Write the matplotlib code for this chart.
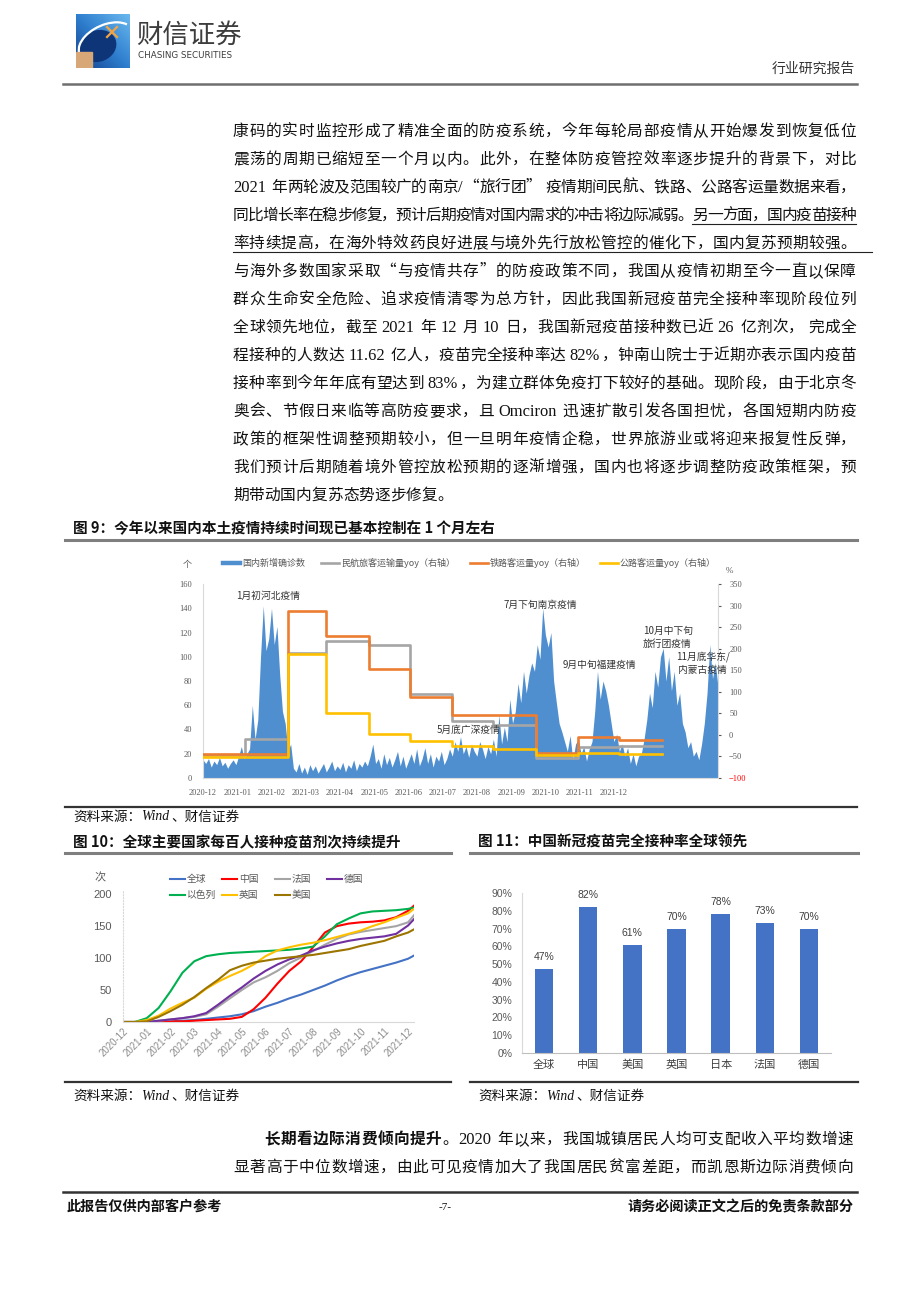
import numpy as np
import matplotlib
matplotlib.use("Agg")
import matplotlib.pyplot as plt
from matplotlib.font_manager import FontProperties
from matplotlib.lines import Line2D
from matplotlib.patches import Rectangle, Ellipse, Arc

CJK = "Noto Sans CJK SC"
LAT = "Liberation Serif"
NARROW = ["Liberation Sans Narrow", "Liberation Sans", "DejaVu Sans"]
plt.rcParams["font.family"] = [CJK, "DejaVu Sans"]

# ---------------- 图9 data ----------------
# 国内新增确诊数, every 2nd day from 2020-12-01
case_vals = [
    15, 12, 16, 9, 14, 11, 17, 10, 13, 8,
    12, 15, 11, 18, 26, 16, 20, 24, 60, 32,
    48, 100, 142, 105, 115, 140, 110, 125, 85, 55,
    45, 22, 28, 8, 5, 12, 4, 9, 3, 11,
    6, 10, 4, 8, 12, 5, 9, 14, 6, 10,
    7, 13, 5, 11, 8, 15, 6, 12, 9, 14,
    10, 18, 28, 12, 16, 8, 20, 11, 17, 9,
    15, 22, 10, 18, 8, 14, 20, 12, 24, 10,
    16, 25, 12, 20, 9, 18, 14, 22, 11, 16,
    24, 18, 30, 22, 34, 20, 26, 17, 28, 22,
    18, 30, 24, 16, 26, 20, 32, 18, 52, 28,
    42, 30, 65, 45, 55, 78, 62, 88, 70, 85,
    95, 88, 110, 98, 140, 118, 108, 120, 80, 62,
    45, 38, 30, 22, 35, 15, 28, 32, 20, 26,
    14, 24, 30, 55, 88, 65, 80, 72, 60, 45,
    30, 36, 22, 28, 18, 25, 12, 20, 10, 18,
    20, 32, 48, 70, 58, 88, 75, 100, 107, 80,
    100, 72, 88, 60, 70, 45, 38, 25, 30, 18,
    22, 15, 28, 45, 70, 110, 82, 95, 75,
]
case_days = np.arange(0, 2 * len(case_vals), 2)
# monthly yoy (%), 2020-12 .. 2021-10, held for the month
month_edges = [0, 31, 62, 90, 121, 151, 182, 212, 243, 274, 304, 335]
air_yoy = [-46, -9, 190, 218, 208, 96, 33, 23, -54, -27, -25]
rail_yoy = [-44, -44, 288, 229, 152, 88, 45, 47, -41, -5, -12]
road_yoy = [-52, -52, 188, 50, 2, -14, -26, -32, -47, -42, -45]
tick9_days = list(range(0, 301, 25))
tick9_labels = ["2020-12", "2021-01", "2021-02", "2021-03", "2021-04", "2021-05", "2021-06",
                "2021-07", "2021-08", "2021-09", "2021-10", "2021-11", "2021-12"]

# ---------------- 图10 data ----------------
m10 = [0, 0.5, 1, 1.5, 2, 2.5, 3, 3.5, 4, 4.5, 5, 5.5, 6, 6.5, 7, 7.5, 8, 8.5, 9, 9.5,
       10, 10.5, 11, 11.5, 12, 12.25]
world = [0, 0, 0, 0.5, 1, 2, 3, 5, 7, 9, 12, 17, 24, 30, 37, 43, 50, 57, 65, 72, 78, 83, 88, 93, 99, 104]
china = [0, 0, 0, 0, 1, 1, 2, 3, 4, 5, 8, 20, 38, 60, 80, 95, 117, 140, 150, 154, 156, 157, 159, 164, 174, 182]
france = [0, 0, 0, 2, 4, 6, 8, 12, 24, 37, 50, 62, 70, 80, 92, 101, 111, 121, 130, 137, 141, 144, 147, 150, 156, 167]
germany = [0, 0, 0, 2, 4, 6, 9, 14, 27, 41, 54, 68, 80, 90, 98, 104, 112, 118, 123, 127, 130, 132, 134, 138, 151, 161]
israel = [0, 0, 6, 22, 48, 77, 95, 103, 106, 108, 109, 110, 111, 112, 113, 115, 118, 134, 153, 162, 170, 173, 174, 175, 177, 179]
uk = [0, 0, 3, 10, 21, 30, 38, 52, 63, 72, 80, 90, 103, 112, 117, 121, 124, 128, 133, 138, 143, 150, 156, 163, 170, 177]
us = [0, 0, 1, 8, 17, 27, 39, 53, 66, 81, 88, 93, 96, 99, 101, 103, 105, 108, 111, 114, 119, 123, 127, 134, 140, 145]
tick10_labels = tick9_labels

# ---------------- 图11 data ----------------
countries = ["全球", "中国", "美国", "英国", "日本", "法国", "德国"]
full_rate = [47, 82, 61, 70, 78, 73, 70]

W, H = 920, 1302
fig = plt.figure(figsize=(W / 100, H / 100), dpi=100)
renderer = fig.canvas.get_renderer()


def fx(x):
    return x / W


def fy(y):
    return 1 - y / H


def add_ax(x0, y0, x1, y1):
    return fig.add_axes([x0 / W, 1 - y1 / H, (x1 - x0) / W, (y1 - y0) / H])


def hline(x0, x1, y, color="#7f7f7f", lw=1.6):
    fig.add_artist(Line2D([fx(x0), fx(x1)], [fy(y), fy(y)], color=color, lw=lw,
                          transform=fig.transFigure))


def txt(x, y, s, **kw):
    kw.setdefault("va", "center")
    return fig.text(fx(x), fy(y), s, **kw)


def fprop(fam, size, bold=False, italic=False):
    return FontProperties(family=fam, size=size, weight="bold" if bold else "normal",
                          style="italic" if italic else "normal")


def lat_width(s, fp):
    return renderer.get_text_width_height_descent(s, fp, ismath=False)[0]


SP = 4.0


def body_line(y, segs, x0=233, x1=856, size=11.3, justify=True, ul_end=None, color="#111111"):
    # lay out one line of body text, spreading the glyphs to fill x0..x1
    em = size * 100 / 72
    items = []
    for s, st in segs:
        bold = "b" in st
        i = 0
        while i < len(s):
            c = s[i]
            if c == " ":
                items.append(("sp", c, st, 0))
                i += 1
            elif ord(c) < 128:
                j = i
                while j < len(s) and ord(s[j]) < 128 and s[j] != " ":
                    j += 1
                w = lat_width(s[i:j], fprop(LAT, size * 1.05, bold))
                items.append(("lat", s[i:j], st, w + 1.5))
                i = j
            else:
                items.append(("cjk", c, st, em))
                i += 1
    glyphs = [it for it in items if it[0] != "sp"]
    n_sp = len(items) - len(glyphs)
    used = sum(it[3] for it in glyphs) + n_sp * SP
    gap = (x1 - x0 - used) / (len(glyphs) - 1) if justify else 0
    yb = y + 0.36 * em
    x = x0
    ul = []
    for kind, t, st, w in items:
        if kind == "sp":
            x += SP
            continue
        bold = "b" in st
        fam = LAT if kind == "lat" else CJK
        fs = size * 1.05 if kind == "lat" else size
        fig.text(fx(x), fy(yb), t, fontproperties=fprop(fam, fs, bold),
                 ha="left", va="baseline", color=color)
        if "u" in st:
            ul.append((x, x + w))
        x += w + gap
    if ul:
        hline(ul[0][0], ul_end if ul_end else ul[-1][1], yb + 4, color="#222222", lw=0.8)


def seq_text(x, y, parts, size, color="#111111"):
    em = size * 100 / 72
    for s, fam, italic, bold in parts:
        fp = fprop(fam, size, bold, italic)
        fig.text(fx(x), fy(y), s, fontproperties=fp, ha="left", va="center", color=color)
        if fam == CJK:
            x += em * len(s)
        else:
            x += lat_width(s, fp) + 2


# ---------------- header ----------------
lg = add_ax(76, 14, 130, 68)
lg.axis("off")
grad = np.linspace(0, 1, 64)
gx, gy = np.meshgrid(grad, grad)
lg.imshow(gx * 0.5 + (1 - gy) * 0.5, cmap=matplotlib.colors.LinearSegmentedColormap.from_list(
    "lg", ["#123f8c", "#2f7fcf", "#6ab8ee"]), extent=(0, 54, 54, 0), aspect="auto")
lg.add_patch(Ellipse((22, 32), 36, 30, angle=-20, color="#0f3579"))
lg.add_patch(Arc((30, 28), 58, 34, angle=-25, theta1=150, theta2=345, color="white", lw=1.6))
lg.add_patch(Rectangle((0, 38), 16, 16, color="#d8a777"))
lg.plot([31, 41], [13, 23], color="#f2a443", lw=1.6)
lg.plot([31, 41], [23, 13], color="#f2a443", lw=1.6)
lg.set_xlim(0, 54)
lg.set_ylim(54, 0)

txt(136, 35, "财信证券", fontsize=19, color="#3d3d3d", ha="left")
txt(138, 56, "CHASING SECURITIES", fontsize=6.3, color="#3d3d3d", ha="left",
    fontfamily="DejaVu Sans")
txt(855, 69, "行业研究报告", fontsize=10, color="#333333", ha="right")
hline(63, 857, 84, color="#6f6f6f", lw=1.8)

# ---------------- body text ----------------
body = [
    (130, [("康码的实时监控形成了精准全面的防疫系统，今年每轮局部疫情从开始爆发到恢复低位", "")], True, None),
    (158, [("震荡的周期已缩短至一个月以内。此外，在整体防疫管控效率逐步提升的背景下，对比", "")], True, None),
    (186, [("2021 年两轮波及范围较广的南京/“旅行团” 疫情期间民航、铁路、公路客运量数据来看，", "")], True, None),
    (214, [("同比增长率在稳步修复，预计后期疫情对国内需求的冲击将边际减弱。", ""),
           ("另一方面，国内疫苗接种", "u")], True, None),
    (242, [("率持续提高，在海外特效药良好进展与境外先行放松管控的催化下，国内复苏预期较强。", "u")], True, 872),
    (270, [("与海外多数国家采取“与疫情共存”的防疫政策不同，我国从疫情初期至今一直以保障", "")], True, None),
    (298, [("群众生命安全危险、追求疫情清零为总方针，因此我国新冠疫苗完全接种率现阶段位列", "")], True, None),
    (326, [("全球领先地位，截至 2021 年 12 月 10 日，我国新冠疫苗接种数已近 26 亿剂次， 完成全", "")], True, None),
    (354, [("程接种的人数达 11.62 亿人，疫苗完全接种率达 82%，钟南山院士于近期亦表示国内疫苗", "")], True, None),
    (382, [("接种率到今年年底有望达到 83%，为建立群体免疫打下较好的基础。现阶段，由于北京冬", "")], True, None),
    (410, [("奥会、节假日来临等高防疫要求，且 Omciron 迅速扩散引发各国担忧，各国短期内防疫", "")], True, None),
    (438, [("政策的框架性调整预期较小，但一旦明年疫情企稳，世界旅游业或将迎来报复性反弹，", "")], True, None),
    (466, [("我们预计后期随着境外管控放松预期的逐渐增强，国内也将逐步调整防疫政策框架，预", "")], True, None),
    (494, [("期带动国内复苏态势逐步修复。", "")], False, None),
]
for y, segs, just, ule in body:
    body_line(y, segs, justify=just, ul_end=ule)

# ---------------- 图9 ----------------
txt(73, 528, "图 9：今年以来国内本土疫情持续时间现已基本控制在 1 个月左右", fontsize=10.5,
    fontweight="bold", ha="left", color="#111111")
hline(65, 857, 540, lw=2.2)

ax9 = add_ax(203, 584, 718, 778)
ax9.fill_between(case_days, case_vals, color="#4f8fd0", lw=0, zorder=1)
ax9.set_xlim(0, 376)
ax9.set_ylim(0, 160)
ax9.set_yticks(range(0, 161, 20))
ax9.set_xticks(tick9_days)
ax9.set_xticklabels(tick9_labels)
ax9.tick_params(axis="both", length=0, labelsize=6, colors="#595959", pad=8)
for lbl in ax9.get_xticklabels() + ax9.get_yticklabels():
    lbl.set_fontfamily(LAT)
for sp in ["top", "right"]:
    ax9.spines[sp].set_visible(False)
ax9.spines["left"].set_color("#d9d9d9")
ax9.spines["bottom"].set_color("#d9d9d9")

ax9b = ax9.twinx()
ax9b.set_ylim(-100, 350)
ax9b.set_yticks(range(-100, 351, 50))
for vals, c in [(air_yoy, "#a5a5a5"), (rail_yoy, "#ed7d31"), (road_yoy, "#ffc000")]:
    ax9b.step(month_edges, vals + [vals[-1]], where="post", color=c, lw=1.9)
ax9b.tick_params(axis="y", length=2, labelsize=6, colors="#595959", pad=6)
for lbl in ax9b.get_yticklabels():
    lbl.set_fontfamily(LAT)
ax9b.get_yticklabels()[0].set_color("#ff0000")
for sp in ["top", "left", "bottom"]:
    ax9b.spines[sp].set_visible(False)
ax9b.spines["right"].set_color("#d9d9d9")

txt(187, 565, "个", fontsize=6.5, color="#595959", ha="center")
txt(729, 571, "%", fontsize=6.5, color="#595959", ha="center", fontfamily=LAT)
leg9 = [(223, 240, "#4f8fd0", 3.2, "国内新增确诊数"), (321, 339, "#a5a5a5", 1.9, "民航旅客运输量yoy（右轴）"),
        (470, 488, "#ed7d31", 1.9, "铁路客运量yoy（右轴）"), (600, 618, "#ffc000", 1.9, "公路客运量yoy（右轴）")]
for a, b, c, lw, s in leg9:
    hline(a, b, 563, color=c, lw=lw)
    txt(b + 2, 563, s, fontsize=6.5, color="#595959", ha="left")

ann9 = [(236, 596, "1月初河北疫情"), (504, 605, "7月下旬南京疫情"), (643, 631, "10月中下旬"),
        (643, 644, "旅行团疫情"), (563, 665, "9月中旬福建疫情"), (676, 657, "11月底华东/"),
        (678, 670, "内蒙古疫情"), (437, 730, "5月底广深疫情")]
for x, y, s in ann9:
    txt(x, y, s, fontsize=7, color="#333333", ha="left")

hline(65, 857, 807, color="#333333", lw=1.6)
seq_text(73, 817, [("资料来源：", CJK, False, False), ("Wind", LAT, True, False),
                   ("、财信证券", CJK, False, False)], 9.8)

# ---------------- 图10 ----------------
txt(73, 842, "图 10：全球主要国家每百人接种疫苗剂次持续提升", fontsize=10.5, fontweight="bold",
    ha="left", color="#111111")
hline(65, 451, 853, lw=2.2)

ax10 = add_ax(123, 891, 414, 1022)
series10 = [("全球", world, "#4472c4"), ("中国", china, "#ff0000"), ("法国", france, "#a5a5a5"),
            ("德国", germany, "#7030a0"), ("以色列", israel, "#00b050"), ("英国", uk, "#ffc000"),
            ("美国", us, "#9c7500")]
for name, vals, c in series10:
    ax10.plot(m10, vals, color=c, lw=1.5, label=name)
ax10.set_xlim(0, 12.25)
ax10.set_ylim(0, 205)
ax10.set_yticks([0, 50, 100, 150, 200])
ax10.set_xticks(range(13))
ax10.set_xticklabels(tick10_labels, rotation=45, ha="right", va="top", rotation_mode="anchor")
ax10.tick_params(axis="y", length=0, labelsize=8, colors="#595959", pad=8)
ax10.tick_params(axis="x", length=0, labelsize=7, colors="#8c8c8c", pad=3)
for lbl in ax10.get_yticklabels():
    lbl.set_fontfamily("Liberation Sans")
for lbl in ax10.get_xticklabels():
    lbl.set_fontfamily("Liberation Sans")
for sp in ["top", "right"]:
    ax10.spines[sp].set_visible(False)
ax10.spines["left"].set_color("#d9d9d9")
ax10.spines["left"].set_linestyle(":")
ax10.spines["bottom"].set_color("#d9d9d9")
txt(100, 878, "次", fontsize=8, color="#595959", ha="center")

leg10_pos = [(170, 879), (222, 879), (275, 879), (327, 879), (170, 895), (222, 895), (275, 895)]
for (x, y), (name, vals, c) in zip(leg10_pos, series10):
    hline(x, x + 15, y, color=c, lw=1.5)
    txt(x + 17, y, name, fontsize=7, color="#595959", ha="left")

hline(65, 451, 1082, color="#333333", lw=1.6)
seq_text(73, 1096, [("资料来源：", CJK, False, False), ("Wind", LAT, True, False),
                    ("、财信证券", CJK, False, False)], 9.8)

# ---------------- 图11 ----------------
txt(478, 842, "图 11：中国新冠疫苗完全接种率全球领先", fontsize=10.5, fontweight="bold",
    ha="left", color="#111111")
hline(470, 858, 853, lw=2.2)

ax11 = add_ax(522, 893, 831, 1053)
xs = np.arange(len(countries))
ax11.bar(xs, full_rate, width=0.42, color="#4472c4")
for x, v in zip(xs, full_rate):
    ax11.annotate(f"{v}%", (x, v), xytext=(0, 5), textcoords="offset points", ha="center",
                  va="bottom", fontsize=7.5, color="#404040", fontfamily=NARROW)
ax11.set_xlim(-0.5, 6.5)
ax11.set_ylim(0, 90)
ax11.set_yticks(range(0, 91, 10))
ax11.set_yticklabels([f"{v}%" for v in range(0, 91, 10)])
ax11.set_xticks(xs)
ax11.set_xticklabels(countries)
ax11.tick_params(axis="y", length=0, labelsize=7.5, colors="#595959", pad=7)
ax11.tick_params(axis="x", length=0, labelsize=8, colors="#404040", pad=5)
for lbl in ax11.get_yticklabels():
    lbl.set_fontfamily(NARROW)
for sp in ["top", "right"]:
    ax11.spines[sp].set_visible(False)
ax11.spines["left"].set_color("#d9d9d9")
ax11.spines["bottom"].set_color("#bfbfbf")

hline(470, 858, 1082, color="#333333", lw=1.6)
seq_text(478, 1096, [("资料来源：", CJK, False, False), ("Wind", LAT, True, False),
                     ("、财信证券", CJK, False, False)], 9.8)

# ---------------- closing paragraph ----------------
body_line(1138, [("长期看边际消费倾向提升", "b"), ("。2020 年以来，我国城镇居民人均可支配收入平均数增速", "")],
          x0=264, x1=853)
body_line(1166, [("显著高于中位数增速，由此可见疫情加大了我国居民贫富差距，而凯恩斯边际消费倾向", "")],
          x0=233, x1=853)

# ---------------- footer ----------------
hline(63, 857, 1192, color="#333333", lw=1.8)
txt(67, 1207, "此报告仅供内部客户参考", fontsize=10.2, fontweight="bold", ha="left", color="#111111")
txt(445, 1207, "-7-", fontsize=8, ha="center", color="#111111", fontfamily=LAT)
txt(853, 1207, "请务必阅读正文之后的免责条款部分", fontsize=10.2, fontweight="bold", ha="right",
    color="#111111")

fig.savefig("out.png", dpi=100)
